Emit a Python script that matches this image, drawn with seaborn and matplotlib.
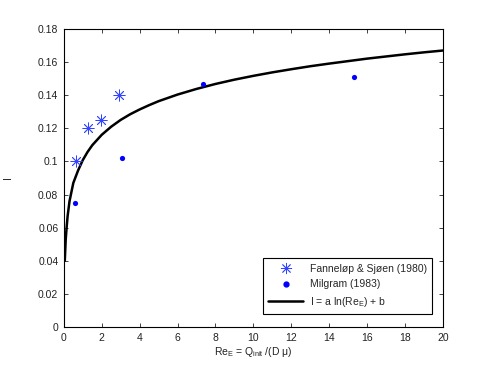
import matplotlib
matplotlib.use("Agg")
import matplotlib.pyplot as plt
import seaborn as sns
from matplotlib.lines import Line2D

# data
fanneloep_re = [0.65, 1.3, 1.95, 2.9]
fanneloep_i = [0.100, 0.120, 0.125, 0.140]

milgram_re = [0.6, 3.05, 7.35, 15.3]
milgram_i = [0.075, 0.102, 0.147, 0.151]

# fitted curve I = a ln(Re_E) + b
fit_re = [0.05, 0.1, 0.15, 0.2, 0.3, 0.4, 0.5, 0.75, 1.0, 1.25, 1.5, 2.0, 2.5,
          3.0, 3.5, 4.0, 4.5, 5.0, 6.0, 7.0, 8.0, 9.0, 10.0, 11.0, 12.0, 13.0,
          14.0, 15.0, 16.0, 17.0, 18.0, 19.0, 20.0]
fit_i = [0.0400, 0.0530, 0.0605, 0.0670, 0.0760, 0.0815, 0.0870, 0.0945, 0.1008,
         0.1057, 0.1098, 0.1161, 0.1210, 0.1251, 0.1285, 0.1314, 0.1340, 0.1364,
         0.1404, 0.1438, 0.1468, 0.1494, 0.1517, 0.1538, 0.1557, 0.1575, 0.1591,
         0.1606, 0.1621, 0.1634, 0.1647, 0.1659, 0.1670]

xticks = list(range(0, 21, 2))
yticks = [0, 0.02, 0.04, 0.06, 0.08, 0.1, 0.12, 0.14, 0.16, 0.18]
ytick_labels = ["0", "0.02", "0.04", "0.06", "0.08", "0.1", "0.12", "0.14", "0.16", "0.18"]

sns.set_theme(style="ticks")
plt.rcParams['font.family'] = ['Liberation Sans', 'DejaVu Sans']
plt.rcParams['font.size'] = 7.5
plt.rcParams['mathtext.default'] = 'regular'
plt.rcParams['xtick.direction'] = 'in'
plt.rcParams['ytick.direction'] = 'in'

fig = plt.figure(figsize=(4.91, 3.68), dpi=100)
ax = fig.add_axes([0.130, 0.1114, 0.772, 0.8098])

asterisk = (8, 2, 0)
sns.lineplot(x=fit_re, y=fit_i, color='black', linewidth=1.8, ax=ax, sort=False)
sns.scatterplot(x=fanneloep_re, y=fanneloep_i, marker=asterisk, s=65, color='#3344ff',
                linewidth=0.6, ax=ax, zorder=3)
sns.scatterplot(x=milgram_re, y=milgram_i, marker='o', s=14, color='blue',
                edgecolor='blue', linewidth=0, ax=ax, zorder=3)

ax.set_xlim(0, 20)
ax.set_ylim(0, 0.18)
ax.set_xticks(xticks)
ax.set_yticks(yticks)
ax.set_yticklabels(ytick_labels)
ax.tick_params(axis='both', which='both', top=True, right=True, length=3,
               width=0.6, labelsize=7.5, colors='#222222', pad=4)
for sp in ax.spines.values():
    sp.set_linewidth(0.8)
    sp.set_color('black')

ax.set_xlabel(r"Re$_E$ = Q$_{init}$ /(D $\mu$)", fontsize=7.5, color='#222222', labelpad=2)
ax.set_ylabel("I", fontsize=7.5, color='#222222', labelpad=18, rotation=90)

handles = [
    Line2D([], [], linestyle='none', marker=asterisk, markersize=8, color='#3344ff',
           markeredgewidth=0.6),
    Line2D([], [], linestyle='none', marker='o', markersize=3.5, color='blue'),
    Line2D([], [], color='black', linewidth=1.8),
]
labels = ["Fanneløp & Sjøen (1980)", "Milgram (1983)", r"I = a ln(Re$_E$) + b"]
leg = ax.legend(handles, labels, loc='lower right', bbox_to_anchor=(0.985, 0.025),
                fontsize=7.5, frameon=True, fancybox=False, edgecolor='black',
                framealpha=1, borderpad=0.5, labelspacing=0.55, handlelength=3.4,
                handletextpad=0.6)
leg.get_frame().set_linewidth(0.8)

fig.savefig("out.png", dpi=100, facecolor='white')
